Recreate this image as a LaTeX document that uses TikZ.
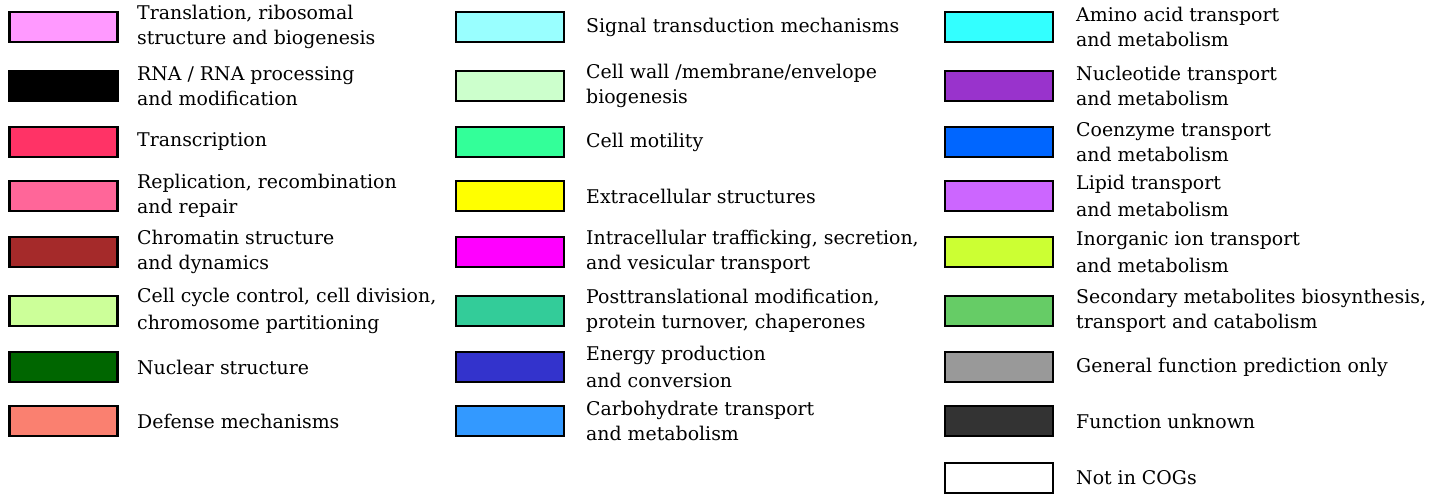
\documentclass[tikz,border=0pt]{standalone}
\usepackage{fontspec}
\setmainfont{DejaVu Serif}
\definecolor{cJ}{HTML}{FF99FF}
\definecolor{cA}{HTML}{000000}
\definecolor{cK}{HTML}{FF3366}
\definecolor{cL}{HTML}{FF6699}
\definecolor{cB}{HTML}{A52A2A}
\definecolor{cD}{HTML}{CCFF99}
\definecolor{cY}{HTML}{006600}
\definecolor{cV}{HTML}{FA8070}
\definecolor{cT}{HTML}{99FFFF}
\definecolor{cM}{HTML}{CCFFCC}
\definecolor{cN}{HTML}{33FF99}
\definecolor{cW}{HTML}{FFFF00}
\definecolor{cU}{HTML}{FF00FF}
\definecolor{cO}{HTML}{33CC99}
\definecolor{cC}{HTML}{3333CC}
\definecolor{cG}{HTML}{3399FF}
\definecolor{cE}{HTML}{33FFFF}
\definecolor{cF}{HTML}{9933CC}
\definecolor{cH}{HTML}{0066FF}
\definecolor{cI}{HTML}{CC66FF}
\definecolor{cP}{HTML}{CCFF33}
\definecolor{cQ}{HTML}{66CC66}
\definecolor{cR}{HTML}{999999}
\definecolor{cS}{HTML}{333333}
\definecolor{cX}{HTML}{FFFFFF}
\tikzset{
  swatch/.style={draw=black, line width=2.8pt, minimum width=108pt, minimum height=30pt, inner sep=0pt, anchor=center, fill=#1},
  lbl/.style={anchor=west, align=left, inner sep=0pt, font=\fontsize{18.9}{24.5}\selectfont},
  widelbl/.style={lbl, font=\fontsize{18.9}{26.5}\selectfont}
}
\begin{document}
\begin{tikzpicture}[x=1pt,y=-1pt]
\useasboundingbox (0,0) rectangle (1450,495);
% column 1
\node[swatch=cJ] (b1) at (63.5,27) {};
\node[lbl] (t1) at (137,27) {Translation, ribosomal\\structure and biogenesis};
\node[swatch=cA] (b2) at (63.5,86) {};
\node[lbl] (t2) at (137,86) {RNA / RNA processing\\and modification};
\node[swatch=cK] (b3) at (63.5,142) {};
\node[lbl] (t3) at (137,142) {Transcription};
\node[swatch=cL] (b4) at (63.5,196) {};
\node[lbl] (t4) at (137,196) {Replication, recombination\\and repair};
\node[swatch=cB] (b5) at (63.5,252) {};
\node[lbl] (t5) at (137,252) {Chromatin structure\\and dynamics};
\node[swatch=cD] (b6) at (63.5,311) {};
\node[widelbl] (t6) at (137,311) {Cell cycle control, cell division,\\chromosome partitioning};
\node[swatch=cY] (b7) at (63.5,367) {};
\node[lbl] (t7) at (137,367) {Nuclear structure};
\node[swatch=cV] (b8) at (63.5,421) {};
\node[lbl] (t8) at (137,421) {Defense mechanisms};
% column 2
\node[swatch=cT] (b9) at (510,27) {};
\node[lbl] (t9) at (586,27) {Signal transduction mechanisms};
\node[swatch=cM] (b10) at (510,86) {};
\node[lbl] (t10) at (586,86) {Cell wall /membrane/envelope\\biogenesis};
\node[swatch=cN] (b11) at (510,142) {};
\node[lbl] (t11) at (586,142) {Cell motility};
\node[swatch=cW] (b12) at (510,196) {};
\node[lbl] (t12) at (586,196) {Extracellular structures};
\node[swatch=cU] (b13) at (510,252) {};
\node[lbl] (t13) at (586,252) {Intracellular trafficking, secretion,\\and vesicular transport};
\node[swatch=cO] (b14) at (510,311) {};
\node[lbl] (t14) at (586,311) {Posttranslational modification,\\protein turnover, chaperones};
\node[swatch=cC] (b15) at (510,367) {};
\node[widelbl] (t15) at (586,367) {Energy production\\and conversion};
\node[swatch=cG] (b16) at (510,421) {};
\node[lbl] (t16) at (586,421) {Carbohydrate transport\\and metabolism};
% column 3
\node[swatch=cE] (b17) at (999,27) {};
\node[lbl] (t17) at (1076,27) {Amino acid transport\\and metabolism};
\node[swatch=cF] (b18) at (999,86) {};
\node[lbl] (t18) at (1076,86) {Nucleotide transport\\and metabolism};
\node[swatch=cH] (b19) at (999,142) {};
\node[lbl] (t19) at (1076,142) {Coenzyme transport\\and metabolism};
\node[swatch=cI] (b20) at (999,196) {};
\node[widelbl] (t20) at (1076,196) {Lipid transport\\and metabolism};
\node[swatch=cP] (b21) at (999,252) {};
\node[widelbl] (t21) at (1076,252) {Inorganic ion transport\\and metabolism};
\node[swatch=cQ] (b22) at (999,311) {};
\node[lbl] (t22) at (1076,311) {Secondary metabolites biosynthesis,\\transport and catabolism};
\node[swatch=cR] (b23) at (999,367) {};
\node[lbl] (t23) at (1076,367) {General function prediction only};
\node[swatch=cS] (b24) at (999,421) {};
\node[lbl] (t24) at (1076,421) {Function unknown};
\node[swatch=cX] (b25) at (999,478) {};
\node[lbl] (t25) at (1076,478) {Not in COGs};
\end{tikzpicture}
\end{document}
